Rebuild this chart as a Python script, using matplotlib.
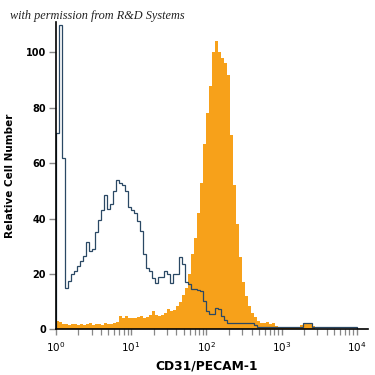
import numpy as np
import matplotlib
matplotlib.use('Agg')
import matplotlib.pyplot as plt
from matplotlib.ticker import FixedLocator

###############################
# Data (counts per log bin, 0.04 decade wide, from 10^0)
###############################
bin_width_log = 0.04

isotype_counts = [
    71, 110, 62, 15, 17.5, 20, 21, 23, 24.5, 26.5,
    31.4, 28.4, 29, 35, 39.5, 43, 48.4, 43.6, 45.4, 50,
    53.8, 52.7, 52, 50, 44, 43, 42, 39, 35.6, 27,
    22.3, 21, 18.5, 16.8, 18.7, 18.7, 21, 20, 16.8, 20,
    20, 26, 23.6, 17, 16.4, 14.5, 14.5, 14, 13.8, 10.2,
    6.5, 5.4, 5.4, 7.8, 7.2, 4.7, 3.5, 2.3, 2.3, 2.3,
    2.3, 2.3, 2.3, 2.3, 2.3, 2.3, 1.5, 0.7, 0.7, 0.7,
    0.7, 0.7, 0.7, 0.7, 0.7, 0.7, 0.7, 0.7, 0.7, 0.7,
    0.7, 0.7, 2.2, 2.2, 2.2, 0.7, 0.7, 0.7, 0.7, 0.7,
    0.7, 0.7, 0.7, 0.7, 0.7, 0.7, 0.7, 0.7, 0.7, 0.7,
]

cd31_counts = [
    2.9, 2.5, 1.8, 2.0, 1.5, 2.0, 1.8, 1.6, 2.0, 1.5,
    1.8, 2.2, 1.6, 2.0, 1.8, 1.5, 2.4, 2.0, 1.8, 2.2,
    2.5, 4.7, 4.0, 4.7, 4.2, 4.0, 4.2, 4.5, 4.8, 4.2,
    4.6, 5.0, 6.5, 5.0, 4.8, 5.2, 6.0, 7.3, 6.5, 6.8,
    8.4, 10, 12.5, 15, 20, 27, 33, 42, 53, 67,
    78, 88, 100, 104, 100, 98, 96, 92, 70, 52,
    38, 26, 17, 12, 8.5, 6, 4.5, 3, 2.3, 2.2,
    2.5, 2.0, 2.2, 1.2, 0.3, 0.3, 0.3, 0.3, 0.3, 0.3,
    0.5, 1.5, 2.0, 2.2, 1.8, 1.0, 0, 0, 0, 0,
    0, 0, 0, 0, 0, 0, 0, 0, 0, 0,
]

y_ticks = [0, 20, 40, 60, 80, 100]
x_ticks = [1, 10, 100, 1000, 10000]
x_tick_labels = ['$10^0$', '$10^1$', '$10^2$', '$10^3$', '$10^4$']

ORANGE = '#f7a11a'
BLUE = '#2a4864'
TICK_GREY = '#888888'

###############################
# Plot
###############################
def main():
    edges = 10 ** (bin_width_log * np.arange(len(cd31_counts) + 1))
    minor = [d * s for d in x_ticks[:-1] for s in range(2, 10)]

    fig = plt.figure(figsize=(3.75, 3.75), dpi=100)
    ax = fig.add_axes([0.1485, 0.122, 0.833, 0.8195])

    ax.stairs(cd31_counts, edges, fill=True, color=ORANGE, lw=0)
    ax.stairs(isotype_counts, edges, color=BLUE, lw=0.9)

    ax.set_xscale('log')
    ax.set_xlim(1, 10 ** 4.15)
    ax.set_ylim(0, 111)

    ax.set_xticks(x_ticks, x_tick_labels)
    ax.xaxis.set_minor_locator(FixedLocator(minor))
    ax.xaxis.set_minor_formatter(plt.NullFormatter())
    ax.set_yticks(y_ticks)

    for s in ['top', 'right']:
        ax.spines[s].set_visible(False)
    for s in ['left', 'bottom']:
        ax.spines[s].set_linewidth(1.2)
        ax.spines[s].set_color('black')

    ax.tick_params(axis='y', length=5, width=1, color=TICK_GREY, pad=2,
                   labelsize=7)
    for lab in ax.get_yticklabels():
        lab.set_fontweight('bold')
    ax.tick_params(axis='x', which='major', length=4, width=1, color=TICK_GREY,
                   pad=4, labelsize=7.5)
    ax.tick_params(axis='x', which='minor', length=4, width=0.9, color=TICK_GREY)

    ax.set_xlabel('CD31/PECAM-1', fontsize=8.8, fontweight='bold')
    ax.xaxis.set_label_coords(0.483, -0.1)
    ax.set_ylabel('Relative Cell Number', fontsize=7.5, fontweight='bold', labelpad=8)

    fig.text(0.027, 0.948, 'with permission from R&D Systems', fontsize=8.8,
             style='italic', family='Liberation Serif', color='#222222')

    fig.savefig('out.png', dpi=100)


if __name__ == '__main__':
    main()
